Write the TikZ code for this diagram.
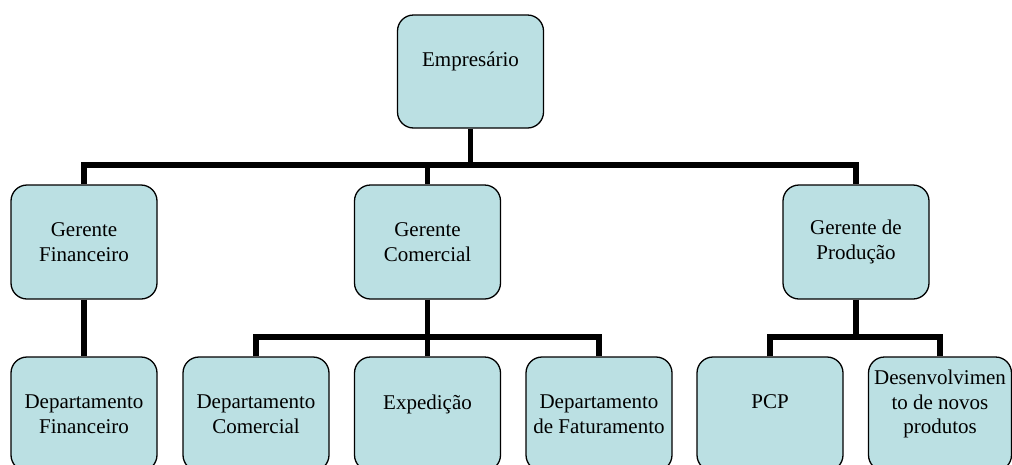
\documentclass[tikz,border=0pt]{standalone}
\usepackage{fontspec}
\setmainfont{Liberation Serif}
\definecolor{boxfill}{HTML}{BBE0E3}
\begin{document}
\begin{tikzpicture}[x=1pt,y=-1pt,
  orgbox/.style={draw=black, line width=1.3pt, fill=boxfill, rounded corners=16pt,
    minimum width=146pt, minimum height=114pt, inner sep=0pt, align=center,
    font=\fontsize{21}{24.5}\selectfont},
  conn/.style={draw=black, line width=5.5pt, line join=miter}]
\useasboundingbox (0,0) rectangle (1012,464);
% level 1
\node[orgbox, minimum height=113pt] (E) at (470.5,71.5) {Empresário\\\phantom{X}};
% level 2
\node[orgbox] (GF) at (84,242) {Gerente\\Financeiro};
\node[orgbox] (GC) at (427.5,242) {Gerente\\Comercial};
\node[orgbox] (GP) at (856,242) {Gerente de\\Produção};
% level 3
\node[orgbox] (DF) at (84,414) {Departamento\\Financeiro};
\node[orgbox] (DC) at (256,414) {Departamento\\Comercial};
\node[orgbox] (EX) at (427.5,414) {Expedição\\\phantom{X}};
\node[orgbox] (DFa) at (599,414) {Departamento\\de Faturamento};
\node[orgbox] (PCP) at (770,414) {PCP\\\phantom{X}};
\node[orgbox, minimum width=143pt] (DN) at (940,414) {Desenvolvimen\\to de novos\\produtos\\\phantom{X}};
% hubs
\coordinate (h1) at (470.5,165);
\coordinate (h2) at (427.5,337);
\coordinate (h3) at (856,337);
% connectors
\draw[conn] (E.south) -- (h1);
\draw[conn] (GF.north) |- (h1) -| (GP.north);
\draw[conn] (GC.north) -- (GC.north |- h1);
\draw[conn] (GF.south) -- (DF.north);
\draw[conn] (GC.south) -- (EX.north);
\draw[conn] (DC.north) |- (h2) -| (DFa.north);
\draw[conn] (GP.south) -- (h3);
\draw[conn] (PCP.north) |- (h3) -| (DN.north);
\end{tikzpicture}
\end{document}
